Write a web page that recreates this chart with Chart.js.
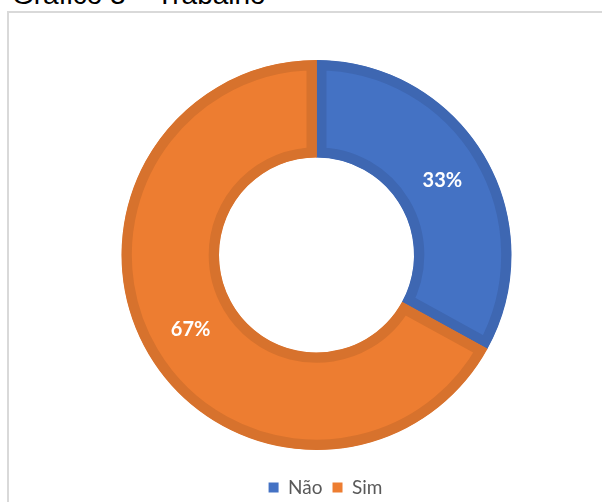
<!DOCTYPE html>
<html lang="pt">
<head>
<meta charset="UTF-8">
<title>Gráfico 3 – Trabalho</title>
<script src="https://cdn.jsdelivr.net/npm/chart.js"></script>
<style>
  html, body { margin: 0; padding: 0; width: 602px; height: 502px; overflow: hidden; background: #fff; }
  #titulo {
    position: absolute; left: 12px; top: -19px;
    font: 28px/28px "Liberation Sans", Arial, sans-serif; color: #000; white-space: nowrap;
  }
  #moldura {
    position: absolute; left: 7px; top: 11px; width: 700px; height: 600px;
    border: 2px solid #d9d9d9; box-sizing: border-box;
  }
  #grafico { position: absolute; left: 0; top: 0; }
</style>
</head>
<body>
<div id="titulo">Gráfico 3 – Trabalho</div>
<div id="moldura"></div>
<canvas id="grafico" width="602" height="510"></canvas>
<script>
  const categorias = ['Não', 'Sim'];
  const percentuais = [33, 67];
  const cores = ['#4472C4', '#ED7D31'];
  const coresBorda = ['#3E67B2', '#D7722D'];

  // escreve o percentual no meio de cada fatia
  const rotulos = {
    id: 'rotulos',
    afterDatasetsDraw(chart) {
      const ctx = chart.ctx;
      const meta = chart.getDatasetMeta(0);
      ctx.save();
      ctx.fillStyle = '#ffffff';
      ctx.font = 'bold 20px Lato, sans-serif';
      ctx.textAlign = 'center';
      ctx.textBaseline = 'middle';
      meta.data.forEach((arc, i) => {
        const p = arc.tooltipPosition();
        ctx.fillText(percentuais[i] + '%', p.x, p.y);
      });
      ctx.restore();
    }
  };

  // legenda um pouco à direita do centro da rosca
  const deslocaLegenda = {
    id: 'deslocaLegenda',
    afterLayout(chart) {
      chart.legend.left += 9;
      chart.legend.right += 9;
    }
  };

  new Chart(document.getElementById('grafico'), {
    type: 'doughnut',
    data: {
      labels: categorias,
      datasets: [{
        data: percentuais,
        backgroundColor: cores,
        borderColor: coresBorda,
        borderWidth: 10,
        borderAlign: 'inner',
        borderJoinStyle: 'miter'
      }]
    },
    options: {
      responsive: false,
      animation: false,
      radius: 195,
      cutout: '50%',
      layout: { padding: { left: 31, right: 0, top: 42, bottom: 3 } },
      plugins: {
        tooltip: { enabled: false },
        legend: {
          position: 'bottom',
          labels: {
            boxWidth: 10,
            boxHeight: 10,
            padding: 10,
            color: '#595959',
            font: { family: 'Lato', size: 19 },
            generateLabels(chart) {
              return categorias.map((c, i) => ({
                text: c,
                fillStyle: cores[i],
                strokeStyle: cores[i],
                lineWidth: 0,
                fontColor: '#595959',
                hidden: false,
                index: i
              }));
            }
          }
        }
      }
    },
    plugins: [rotulos, deslocaLegenda]
  });
</script>
</body>
</html>
